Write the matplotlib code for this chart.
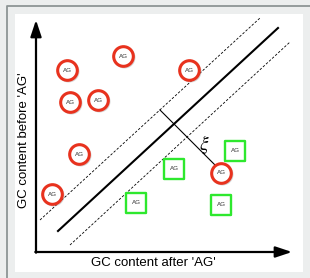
import matplotlib
matplotlib.use('Agg')
from matplotlib import pyplot as plt
from matplotlib.patches import Rectangle

plt.rcParams['font.family'] = ['Liberation Sans', 'DejaVu Sans']
plt.rcParams['mathtext.fontset'] = 'stix'

# sites where the GC content drops after 'AG' (red) or rises (green)
circ_x = [87, 31, 153, 34, 62, 43, 16, 185]
circ_y = [196, 182, 182, 150, 152, 98, 58, 79]
sq_x = [199, 138, 100, 185]
sq_y = [101, 83, 49, 47]

# separating line and the margin lines
line_x = [22, 242]
line_y = [21, 224]
upper_x = [4, 224]
upper_y = [32, 234]
lower_x = [34, 254]
lower_y = [7, 210]
# distance xi from the margin to one point
xi_x = [124, 179]
xi_y = [142, 87]

fig = plt.figure(figsize=(3.10, 2.78), dpi=100)
fig.patch.set_facecolor('#eceeee')

bg = fig.add_axes([0, 0, 1, 1])
bg.set_xlim(0, 310)
bg.set_ylim(278, 0)
bg.axis('off')
bg.add_patch(Rectangle((15, 14), 288, 258, facecolor='white', edgecolor='none'))
bg.plot([6.5, 6.5, 310], [278, 5.5, 5.5], color='#8d9595', lw=1.3)

ax = fig.add_axes([0, 0, 1, 1])
ax.set_xlim(-36, 274)
ax.set_ylim(-26, 252)
ax.axis('off')
ax.patch.set_alpha(0)

# axes arrows
ax.annotate('', xy=(0, 232), xytext=(0, -0.7),
            arrowprops=dict(arrowstyle='-|>,head_width=0.3,head_length=0.9',
                            color='black', lw=1.6,
                            mutation_scale=11, shrinkA=0, shrinkB=0))
ax.annotate('', xy=(256, 0), xytext=(-0.7, 0),
            arrowprops=dict(arrowstyle='-|>,head_width=0.3,head_length=0.9',
                            color='black', lw=1.6,
                            mutation_scale=11, shrinkA=0, shrinkB=0))

ax.plot(line_x, line_y, color='black', lw=1.5)
ax.plot(upper_x, upper_y, color='black', lw=0.6, ls=(0, (3, 2)))
ax.plot(lower_x, lower_y, color='black', lw=0.6, ls=(0, (3, 2)))
ax.plot(xi_x, xi_y, color='black', lw=0.8)
ax.text(168, 108, r'$\xi$', fontsize=14, ha='center', va='center')

# shadows
ax.scatter([x + 1 for x in circ_x], [y - 1.2 for y in circ_y], s=250,
           color='#888888', alpha=0.35, lw=0, zorder=3)
ax.scatter([x + 1 for x in sq_x], [y - 1.2 for y in sq_y], s=220, marker='s',
           color='#888888', alpha=0.35, lw=0, zorder=3)

ax.scatter(circ_x, circ_y, s=200, facecolor='white', edgecolor='#e8321e',
           linewidth=2.2, zorder=4)
ax.scatter(sq_x, sq_y, s=190, marker='s', facecolor='white',
           edgecolor='#2ee82e', linewidth=1.7, zorder=4)

for x, y in zip(circ_x + sq_x, circ_y + sq_y):
    ax.text(x, y, 'AG', fontsize=4.5, color='#333333', ha='center',
            va='center', zorder=5)

ax.text(117, -11, "GC content after 'AG'", fontsize=9.5, ha='center',
        va='center')
ax.text(-12, 112, "GC content before 'AG'", fontsize=9.5, ha='center',
        va='center', rotation=90)

fig.savefig('out.png', dpi=100, facecolor=fig.get_facecolor())
